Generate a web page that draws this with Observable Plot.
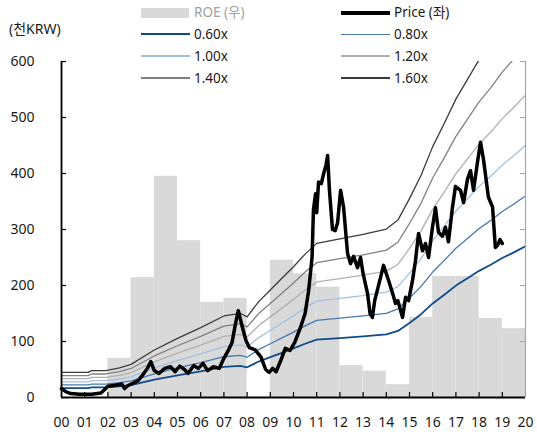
<!DOCTYPE html>
<html><head><meta charset="utf-8">
<script src="https://cdn.jsdelivr.net/npm/d3@7"></script>
<script src="https://cdn.jsdelivr.net/npm/@observablehq/plot@0.6"></script>
<style>
body{margin:0;background:#fff;}
#wrap{position:relative;width:537px;height:437px;font-family:"Noto Sans","Noto Sans CJK KR",sans-serif;color:#1a1a1a;}
.lg{position:absolute;font-size:13.5px;line-height:16px;white-space:nowrap;}
.sw{position:absolute;}
#unit{position:absolute;left:9px;top:21px;font-size:14px;line-height:16px;font-family:"Noto Sans","Noto Sans CJK KR",sans-serif;}
svg{display:block;}
</style></head><body><div id="wrap"></div>
<script>
// ---- data ----
const years = d3.range(2000, 2021);
const yTicks = [0, 100, 200, 300, 400, 500, 600];
const roeYears  = [2002, 2003, 2004, 2005, 2006, 2007, 2009, 2010, 2011, 2012, 2013, 2014, 2015, 2016, 2017, 2018, 2019];
const roeValues = [3.5, 10.7, 19.75, 14.0, 8.5, 8.85, 12.25, 11.05, 9.85, 2.85, 2.35, 1.15, 7.15, 10.8, 10.8, 7.05, 6.15]; // %
const ROE_AXIS_MAX = 30; // hidden right axis: 0–30% ↔ 0–600
const bpsPoints = [[2000,28],[2001.15,28],[2001.3,30],[2001.9,30],[2002.5,33],[2003,37],[2004,53],[2005,66],[2006,78],[2007,91],[2007.7,94],[2008,90],[2008.5,107],[2009,120],[2009.5,133],[2010,146],[2010.5,160],[2011,172],[2012,177],[2013,182],[2014,188],[2014.5,198],[2015,222],[2015.5,248],[2016,280],[2016.5,306],[2017,333],[2017.5,355],[2018,377],[2018.5,395],[2019,415],[2019.5,432],[2020,450]];
const multiples = [0.6, 0.8, 1.0, 1.2, 1.4, 1.6];
const multipleLabels = ["0.60x", "0.80x", "1.00x", "1.20x", "1.40x", "1.60x"];
const bandColors = ["#114a8a", "#4a78b0", "#a3c0df", "#b0b0b0", "#808080", "#3c3c3c"];
const price = [[2000.00,16],[2000.2,10],[2000.4,7],[2000.8,6],[2001.3,6],[2001.7,8],[2001.85,14],[2002.0,20],[2002.3,22],[2002.6,24],[2002.72,16],[2002.85,21],[2003.05,25],[2003.3,30],[2003.5,40],[2003.7,52],[2003.85,64],[2004.0,48],[2004.2,43],[2004.45,52],[2004.7,55],[2004.9,46],[2005.1,56],[2005.3,50],[2005.45,43],[2005.7,57],[2005.9,52],[2006.1,61],[2006.3,48],[2006.55,55],[2006.8,52],[2007.0,70],[2007.2,85],[2007.35,98],[2007.5,132],[2007.62,155],[2007.8,125],[2007.95,102],[2008.1,89],[2008.35,85],[2008.6,72],[2008.8,50],[2008.95,45],[2009.1,52],[2009.25,46],[2009.45,66],[2009.65,88],[2009.85,84],[2010.05,98],[2010.3,125],[2010.5,150],[2010.65,190],[2010.8,250],[2010.86,335],[2010.95,364],[2011.0,330],[2011.08,385],[2011.2,382],[2011.3,400],[2011.4,415],[2011.47,432],[2011.55,370],[2011.68,300],[2011.8,298],[2011.9,312],[2012.03,370],[2012.16,339],[2012.33,257],[2012.46,239],[2012.59,252],[2012.76,232],[2012.89,250],[2013.0,221],[2013.19,186],[2013.3,150],[2013.4,143],[2013.5,173],[2013.75,214],[2013.88,236],[2014.1,209],[2014.27,186],[2014.4,168],[2014.5,173],[2014.7,143],[2014.83,179],[2014.96,173],[2015.13,209],[2015.26,245],[2015.39,293],[2015.56,262],[2015.69,275],[2015.82,250],[2015.99,304],[2016.12,339],[2016.25,295],[2016.42,288],[2016.55,304],[2016.68,278],[2016.85,339],[2016.98,377],[2017.2,370],[2017.33,348],[2017.5,390],[2017.63,405],[2017.76,370],[2017.93,420],[2018.06,456],[2018.19,425],[2018.4,358],[2018.58,340],[2018.7,268],[2018.8,272],[2018.9,282],[2019.0,275]];

// ---- build ----
const roeData = roeYears.map((y, i) => ({year: y, roe: roeValues[i]}));
const toLeft = 600 / ROE_AXIS_MAX;
const W = 537, H = 437, ML = 61, MR = 12, MT = 61, MB = 40;
const innerW = W - ML - MR, innerH = H - MT - MB;
const tick = 5;

const bandMarks = multiples.map((m, i) => Plot.line(bpsPoints, {
  x: d => d[0], y: d => d[1] * m, stroke: bandColors[i],
  strokeWidth: i === 0 ? 1.8 : 1.3, clip: true
}));

const chart = Plot.plot({
  width: W, height: H,
  marginLeft: ML, marginRight: MR, marginTop: MT, marginBottom: MB,
  x: {domain: [2000, 2020], label: null},
  y: {domain: [0, 600], label: null},
  style: {fontFamily: '"Noto Sans", sans-serif', fontSize: "14px", color: "#1a1a1a", background: "white"},
  marks: [
    Plot.rect(roeData, {x1: "year", x2: d => d.year + 1, y1: 0, y2: d => d.roe * toLeft, fill: "#d9d9d9"}),
    ...bandMarks,
    Plot.line(price, {x: d => d[0], y: d => d[1], stroke: "#000", strokeWidth: 3.5, strokeLinejoin: "round", strokeLinecap: "round"}),
    Plot.ruleX([2020], {stroke: "#a6a6a6", strokeWidth: 1.2}),
    Plot.ruleY(yTicks.slice(1), {stroke: "#a6a6a6", insetLeft: innerW - tick}),
    Plot.ruleX([2000], {stroke: "#000", strokeWidth: 1.8}),
    Plot.ruleY([0], {stroke: "#000", strokeWidth: 1.8}),
    Plot.ruleY(yTicks.slice(1), {stroke: "#000", strokeWidth: 1.2, insetRight: innerW - tick}),
    Plot.ruleX(years.slice(1, -1), {stroke: "#000", strokeWidth: 1.2, insetTop: innerH - tick}),
    Plot.axisY({ticks: yTicks, tickSize: 0, tickPadding: 27, fontSize: 14, label: null}),
    Plot.axisX({ticks: years, tickSize: 0, tickPadding: 20, fontSize: 14, label: null, tickFormat: d => String(d % 100).padStart(2, "0")})
  ]
});
const wrap = document.getElementById("wrap");
wrap.appendChild(chart);

// unit label
const unit = document.createElement("div");
unit.id = "unit"; unit.textContent = "(천KRW)";
wrap.appendChild(unit);

// legend
const legendItems = [
  {label: "ROE (우)", type: "rect", color: "#d9d9d9", text: "#a0a0a0"},
  {label: "Price (좌)", type: "line", color: "#000", w: 4},
  ...multipleLabels.map((l, i) => ({label: l, type: "line", color: bandColors[i], w: i === 0 ? 2 : 1.5}))
];
const colX = [141, 341], rowY = [12.5, 34.3, 56, 78];
legendItems.forEach((it, k) => {
  const cx = colX[k % 2], cy = rowY[Math.floor(k / 2)];
  const sw = document.createElement("div");
  sw.className = "sw";
  if (it.type === "rect") {
    Object.assign(sw.style, {left: cx + "px", top: (cy - 5) + "px", width: "48px", height: "10px", background: it.color});
  } else {
    Object.assign(sw.style, {left: cx + "px", top: (cy - it.w / 2) + "px", width: "49px", height: it.w + "px", background: it.color});
  }
  wrap.appendChild(sw);
  const t = document.createElement("div");
  t.className = "lg"; t.textContent = it.label;
  Object.assign(t.style, {left: (cx + 53) + "px", top: (cy - 8.5) + "px", color: it.text || "#1a1a1a"});
  wrap.appendChild(t);
});
</script></body></html>
